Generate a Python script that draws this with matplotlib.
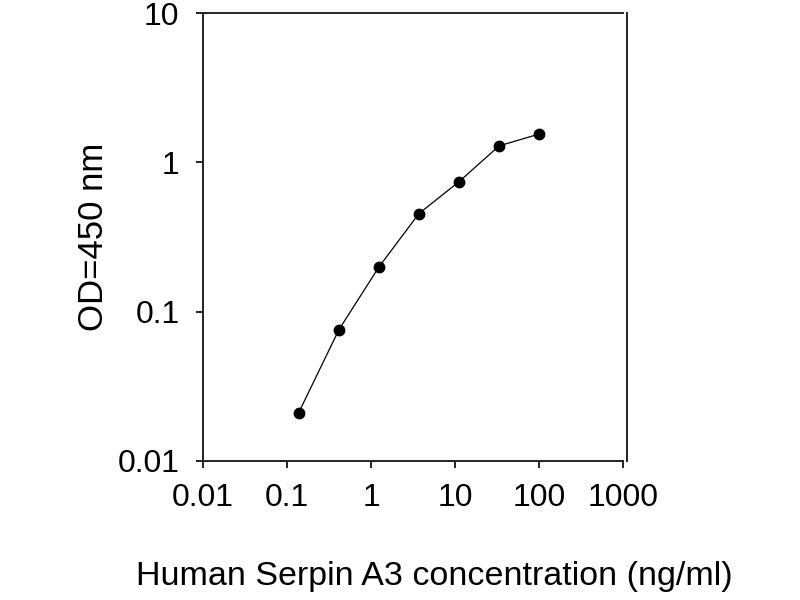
import numpy as np
import matplotlib
matplotlib.use("Agg")
import matplotlib.pyplot as plt
from matplotlib.ticker import FixedLocator, FixedFormatter, NullLocator

# serial 3-fold dilution standard curve
conc = [0.137, 0.412, 1.235, 3.704, 11.11, 33.33, 100.0]
od = [0.021, 0.0755, 0.199, 0.454, 0.743, 1.29, 1.55]

x_ticks = [0.01, 0.1, 1, 10, 100, 1000]
x_tick_labels = ["0.01", "0.1", "1", "10", "100", "1000"]
y_ticks = [0.01, 0.1, 1, 10]
y_tick_labels = ["0.01", "0.1", "1", "10"]

plt.rcParams['font.family'] = ['Liberation Sans', 'DejaVu Sans']

fig = plt.figure(figsize=(8, 6), dpi=100)
ax = fig.add_axes([0.254, 0.232, 0.525, 0.746])

ax.plot(conc, od, color="black", linewidth=0.9, marker="o",
        markersize=7.5, markerfacecolor="black", markeredgecolor="black")

ax.set_xscale("log")
ax.set_yscale("log")
ax.set_xlim(0.01, 1000)
ax.set_ylim(0.01, 10)

ax.xaxis.set_major_locator(FixedLocator(x_ticks))
ax.xaxis.set_major_formatter(FixedFormatter(x_tick_labels))
ax.yaxis.set_major_locator(FixedLocator(y_ticks))
ax.yaxis.set_major_formatter(FixedFormatter(y_tick_labels))
ax.xaxis.set_minor_locator(NullLocator())
ax.yaxis.set_minor_locator(NullLocator())

ax.tick_params(axis="both", which="major", direction="out", length=5,
               width=1.2, labelsize=23, color="black")
ax.tick_params(axis="x", pad=11)
ax.tick_params(axis="y", pad=12)

for side in ["left", "bottom", "top", "right"]:
    ax.spines[side].set_linewidth(1.4)
    ax.spines[side].set_color("#222222")
ax.spines["right"].set_position(("outward", 3))

ax.set_xlabel("Human Serpin A3 concentration (ng/ml)", fontsize=24.5)
ax.set_ylabel("OD=450 nm", fontsize=25)
ax.xaxis.set_label_coords(0.55, -0.259)
ax.xaxis.label.set_va("center")
ax.yaxis.set_label_coords(-0.262, 0.5)
ax.yaxis.label.set_va("center")

fig.savefig("out.png", dpi=100)
